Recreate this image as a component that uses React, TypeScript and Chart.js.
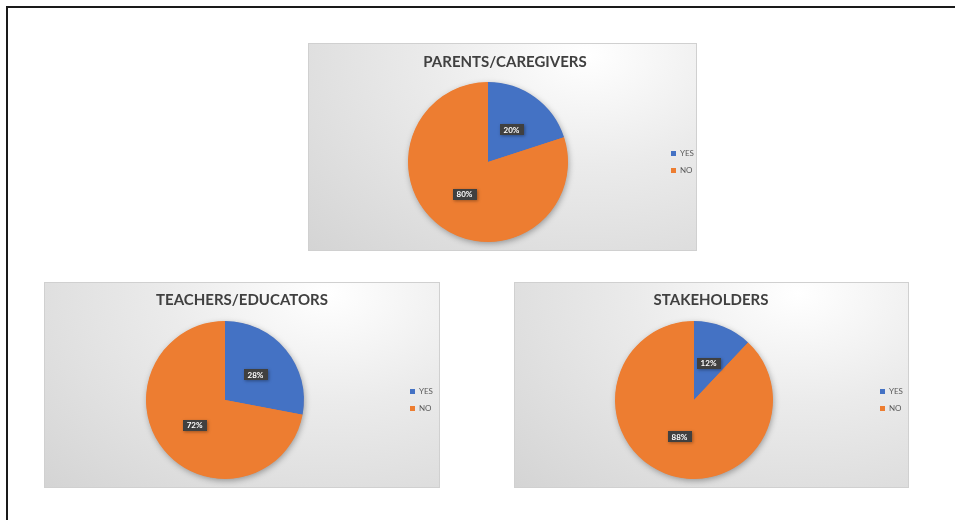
import React, { useEffect, useRef } from "react";
import { Chart, registerables } from "chart.js";

Chart.register(...registerables);

const categories = ["YES", "NO"];
const parentsValues = [20, 80];
const teachersValues = [28, 72];
const stakeholdersValues = [12, 88];
const chartTitles = ["PARENTS/CAREGIVERS", "TEACHERS/EDUCATORS", "STAKEHOLDERS"];
const sliceColors = ["#4472C4", "#ED7D31"];

const FONT = "Lato, 'Liberation Sans', sans-serif";

const boxLabelPlugin = {
  id: "boxLabels",
  beforeDatasetsDraw(chart: any) {
    const meta = chart.getDatasetMeta(0);
    const arc = meta.data[0];
    if (!arc) return;
    const { x, y, outerRadius } = arc.getProps(["x", "y", "outerRadius"], true);
    const ctx = chart.ctx;
    ctx.save();
    ctx.shadowColor = "rgba(0,0,0,0.35)";
    ctx.shadowBlur = 6;
    ctx.shadowOffsetX = 1;
    ctx.shadowOffsetY = 2;
    ctx.beginPath();
    ctx.arc(x, y, outerRadius - 0.5, 0, Math.PI * 2);
    ctx.fillStyle = sliceColors[1];
    ctx.fill();
    ctx.restore();
  },
  afterDatasetsDraw(chart: any) {
    const ctx = chart.ctx;
    const ds = chart.data.datasets[0];
    const values: number[] = ds.data;
    const total = values.reduce((a, b) => a + b, 0);
    const meta = chart.getDatasetMeta(0);
    meta.data.forEach((arc: any, i: number) => {
      const p = arc.tooltipPosition(true);
      const text = Math.round((values[i] / total) * 100) + "%";
      ctx.save();
      ctx.font = `bold 8px ${FONT}`;
      const w = ctx.measureText(text).width + 8;
      const h = 11;
      ctx.shadowColor = "rgba(0,0,0,0.35)";
      ctx.shadowBlur = 3;
      ctx.shadowOffsetX = 1;
      ctx.shadowOffsetY = 1;
      ctx.fillStyle = "#404040";
      ctx.fillRect(Math.round(p.x - w / 2), Math.round(p.y - h / 2), Math.round(w), h);
      ctx.restore();
      ctx.save();
      ctx.font = `bold 8px ${FONT}`;
      ctx.fillStyle = "#ffffff";
      ctx.textAlign = "center";
      ctx.textBaseline = "middle";
      ctx.fillText(text, p.x, p.y + 0.5);
      ctx.restore();
    });
  },
};

type PieProps = {
  title: string;
  values: number[];
  left: number;
  top: number;
  width: number;
  height: number;
  radius: number;
  padLeft: number;
  padRight: number;
  titleTop: number;
  titleBottom: number;
};

function PiePanel(props: PieProps) {
  const ref = useRef<HTMLCanvasElement | null>(null);
  const innerW = props.width - 2;
  const innerH = props.height - 2;

  useEffect(() => {
    if (!ref.current) return;
    const chart = new Chart(ref.current, {
      type: "pie",
      data: {
        labels: categories,
        datasets: [
          {
            data: props.values,
            backgroundColor: sliceColors,
            borderWidth: 0,
            hoverBorderWidth: 0,
            hoverOffset: 0,
            radius: props.radius,
          } as any,
        ],
      },
      options: {
        responsive: false,
        animation: false,
        layout: { padding: { left: props.padLeft, right: props.padRight, top: 0, bottom: 0 } },
        plugins: {
          title: {
            display: true,
            text: props.title,
            color: "#404040",
            font: { family: FONT, size: 15, weight: "bold", lineHeight: 1.2 },
            padding: { top: props.titleTop, bottom: props.titleBottom },
          },
          legend: {
            position: "right",
            fullSize: false,
            maxWidth: 34,
            labels: {
              boxWidth: 5,
              boxHeight: 5,
              padding: 9,
              color: "#595959",
              font: { family: FONT, size: 8 },
            },
          },
          tooltip: { enabled: false },
        },
      } as any,
      plugins: [boxLabelPlugin],
    });
    return () => chart.destroy();
  }, []);

  return (
    <div
      style={{
        position: "absolute",
        left: props.left,
        top: props.top,
        width: props.width,
        height: props.height,
        boxSizing: "border-box",
        border: "1px solid #d0d0d0",
        background:
          "radial-gradient(ellipse farthest-corner at 72% 5%, #ffffff 0%, #ebebeb 40%, #d4d4d4 100%)",
      }}
    >
      <canvas ref={ref} width={innerW} height={innerH} style={{ display: "block", width: innerW, height: innerH }} />
    </div>
  );
}

export default function App() {
  return (
    <div
      style={{
        position: "absolute",
        left: 0,
        top: 0,
        width: 955,
        height: 520,
        overflow: "hidden",
        background: "#ffffff",
      }}
    >
      <div
        style={{
          position: "absolute",
          left: 6,
          top: 6,
          width: 960,
          height: 530,
          borderTop: "2px solid #1a1a1a",
          borderLeft: "2px solid #1a1a1a",
        }}
      />
      <PiePanel
        title={chartTitles[0]}
        values={parentsValues}
        left={308}
        top={43}
        width={389}
        height={208}
        radius={80}
        padLeft={5}
        padRight={0}
        titleTop={9}
        titleBottom={3}
      />
      <PiePanel
        title={chartTitles[1]}
        values={teachersValues}
        left={44}
        top={282}
        width={396}
        height={206}
        radius={79}
        padLeft={4}
        padRight={4}
        titleTop={8}
        titleBottom={4}
      />
      <PiePanel
        title={chartTitles[2]}
        values={stakeholdersValues}
        left={514}
        top={282}
        width={395}
        height={206}
        radius={79}
        padLeft={2}
        padRight={3}
        titleTop={8}
        titleBottom={4}
      />
    </div>
  );
}
